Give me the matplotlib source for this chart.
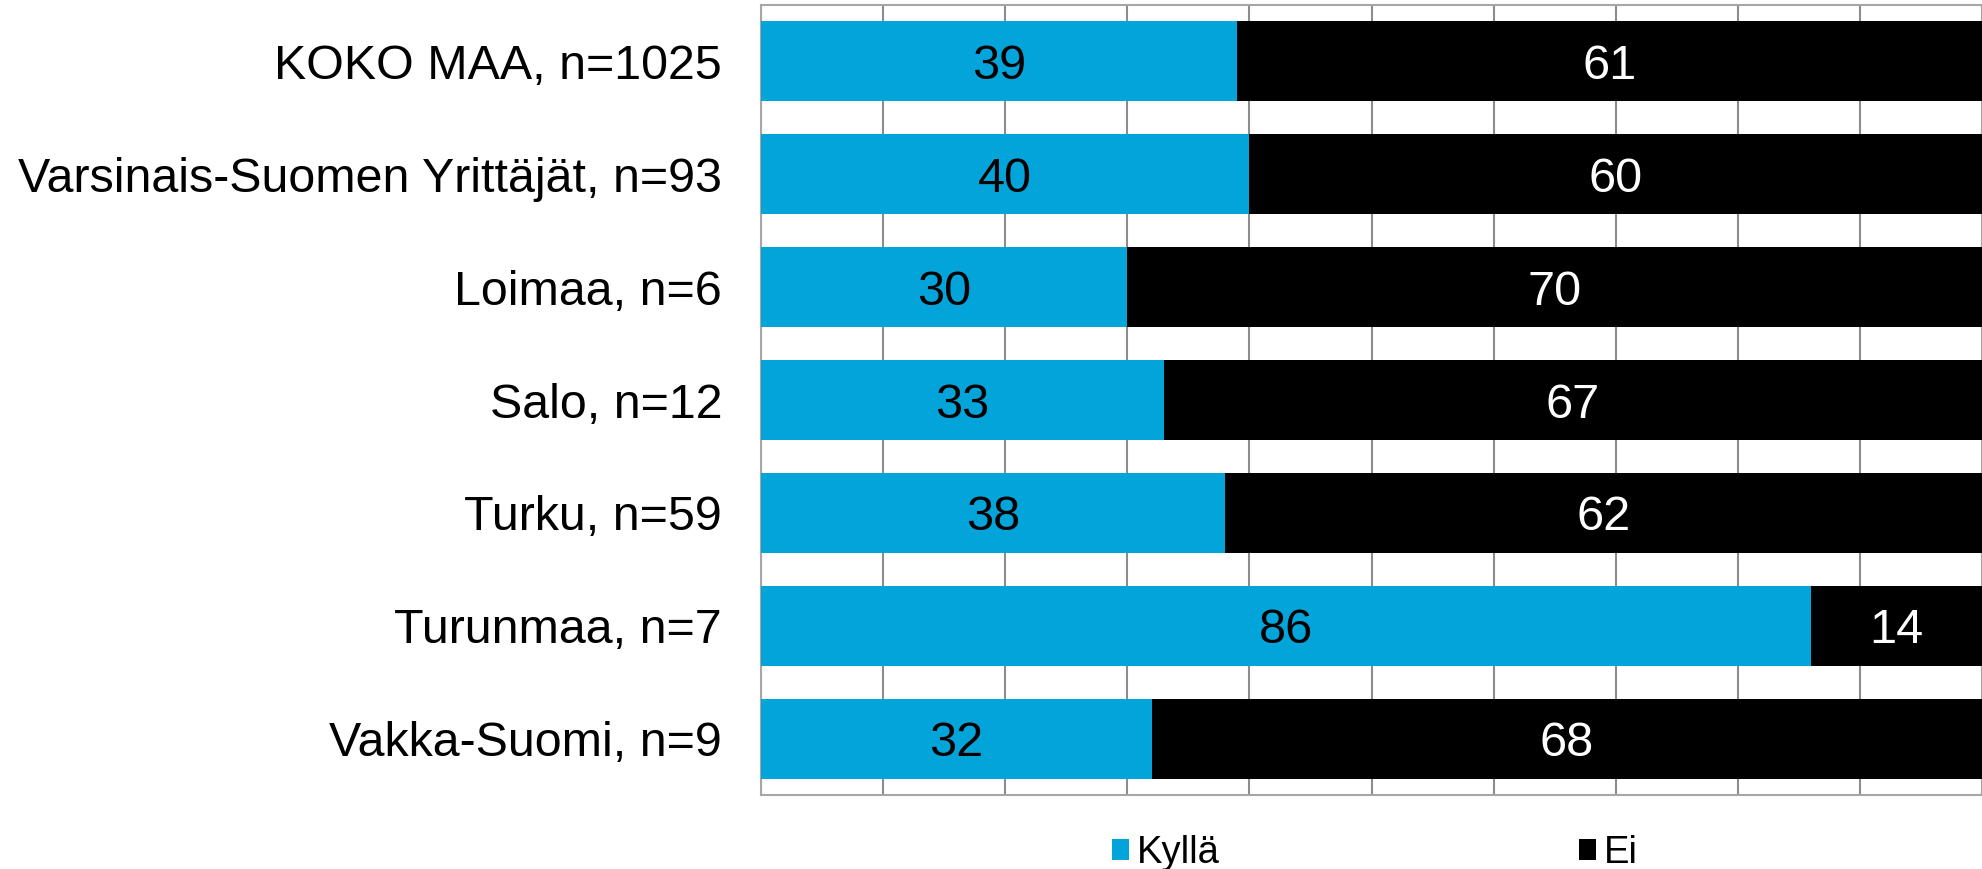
import matplotlib
matplotlib.use("Agg")
import matplotlib.pyplot as plt
from matplotlib.patches import Patch

plt.rcParams['font.family'] = ['Liberation Sans', 'DejaVu Sans']

categories = ["KOKO MAA, n=1025", "Varsinais-Suomen Yrittäjät, n=93", "Loimaa, n=6",
              "Salo, n=12", "Turku, n=59", "Turunmaa, n=7", "Vakka-Suomi, n=9"]
kylla = [39, 40, 30, 33, 38, 86, 32]
ei = [61, 60, 70, 67, 62, 14, 68]
series_names = ["Kyllä", "Ei"]
colors = ["#03A4D9", "#000000"]

fig = plt.figure(figsize=(19.83, 8.69), dpi=100)
ax = fig.add_axes([761/1983, 1-795/869, (1982-761)/1983, (795-5)/869])

y = list(range(len(categories)))
b1 = ax.barh(y, kylla, height=0.71, color=colors[0], zorder=3)
b2 = ax.barh(y, ei, left=kylla, height=0.71, color=colors[1], zorder=3)

for rect, v in zip(b1, kylla):
    ax.text(rect.get_x() + rect.get_width()/2, rect.get_y() + rect.get_height()/2,
            f"{v}", ha='center', va='center_baseline', fontsize=35, color='black', zorder=4)
for rect, v in zip(b2, ei):
    ax.text(rect.get_x() + rect.get_width()/2, rect.get_y() + rect.get_height()/2,
            f"{v}", ha='center', va='center_baseline', fontsize=35, color='white', zorder=4)

ax.set_xlim(0, 100)
ax.set_ylim(len(categories) - 0.5, -0.5)
ax.set_xticks(range(0, 101, 10))
ax.set_xticklabels([])
ax.set_yticks(y)
ax.set_yticklabels(categories, fontsize=34.8)
ax.tick_params(axis='x', length=0)
ax.tick_params(axis='y', length=0, pad=28)
ax.grid(axis='x', color='#8c8c8c', linewidth=1.5, zorder=1)
ax.set_axisbelow(True)
for s in ax.spines.values():
    s.set_color('#a6a6a6')
    s.set_linewidth(1.5)

handles = [Patch(facecolor=c, edgecolor='none') for c in colors]
fig.legend(handles, series_names, loc='center', bbox_to_anchor=(1375/1983, 1-853/869),
           ncol=2, frameon=False, fontsize=27.5, handlelength=0.45, handleheight=0.45,
           handletextpad=0.2, columnspacing=9.4, borderpad=0)

fig.savefig("out.png", dpi=100)
